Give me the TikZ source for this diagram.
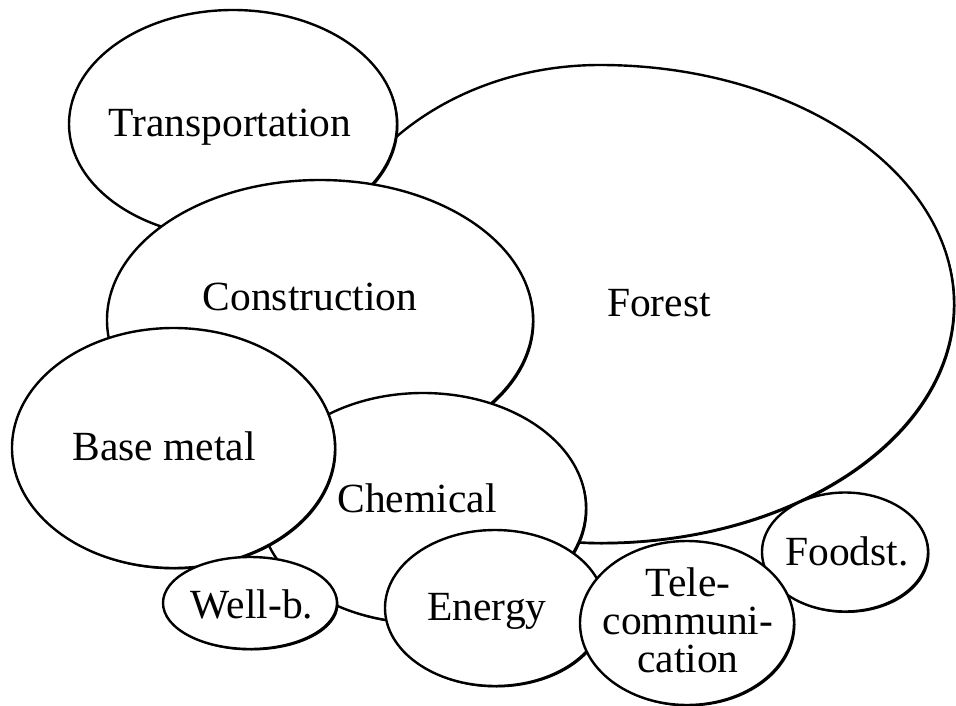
\documentclass[tikz,border=0pt]{standalone}
\usepackage{fontspec}
\setmainfont{Liberation Serif}
\usetikzlibrary{shapes.geometric}
% one bubble: a dark copy nudged down-right, then the white ellipse on top
\newcommand\bubble[5]{%
  \fill[bubbleshade] (#2+1.5,#3+1.5) ellipse [x radius=#4, y radius=#5];
  \node[bubble, minimum width=2*#4, minimum height=2*#5] (#1) at (#2,#3) {};
}
\begin{document}
\begin{tikzpicture}[x=1pt,y=-1pt,
  bubble/.style={ellipse, draw=black, line width=2.4pt, fill=white, inner sep=0pt},
  bubbleshade/.style={fill=black},
  lbl/.style={inner sep=0pt, font=\fontsize{41.5}{38}\selectfont, anchor=base}]
\useasboundingbox (0,0) rectangle (956,706);

% Forest: wider to the right than to the left
\coordinate (forest) at (600,304);
\fill[bubbleshade, shift={(1.5,1.5)}] (600,65)
  arc[start angle=-90, end angle=90, x radius=354, y radius=239]
  arc[start angle=90, end angle=270, x radius=285, y radius=239] -- cycle;
\draw[line width=2.4pt, fill=white] (600,65)
  arc[start angle=-90, end angle=90, x radius=354, y radius=239]
  arc[start angle=90, end angle=270, x radius=285, y radius=239] -- cycle;
\node[lbl] (forestT) at (659,316) {Forest};

\bubble{trans}{233}{124}{164}{114}
\node[lbl] (transT) at (230,137) {Transportation};

\bubble{constr}{320}{320}{213}{140}
\node[lbl] (constrT) at (310,310) {Construction};

\bubble{chem}{423}{508}{163}{115}
\node[lbl] (chemT) at (417,512) {Chemical};

\bubble{base}{173.5}{448}{161.5}{120}
\node[lbl] (baseT) at (164,460) {Base metal};

\bubble{wellb}{250}{603}{87}{46}
\node[lbl] (wellbT) at (252,618) {Well-b.};

\bubble{energy}{495}{608}{110}{78}
\node[lbl] (energyT) at (487,620) {Energy};

\bubble{food}{845}{552}{83}{59.5}
\node[lbl] (foodT) at (847,565) {Foodst.};

\bubble{tele}{687}{623}{107}{82}
\node[lbl, anchor=north, align=center] (teleT) at (688,567) {Tele-\\communi-\\cation};
\end{tikzpicture}
\end{document}
